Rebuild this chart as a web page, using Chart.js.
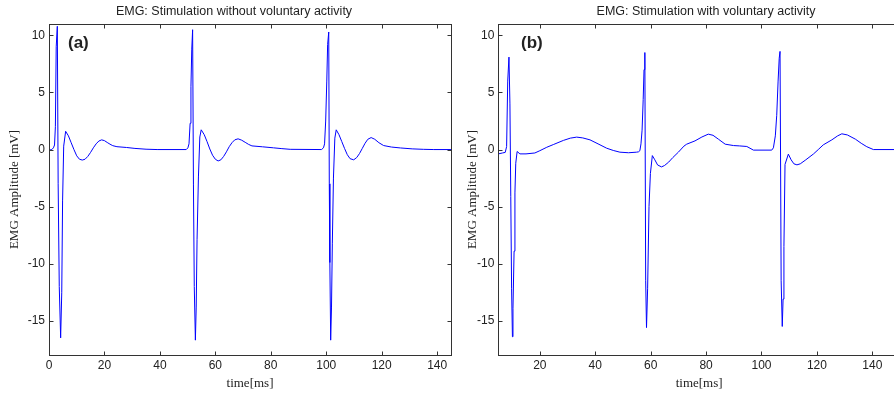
<!DOCTYPE html>
<html>
<head>
<meta charset="utf-8">
<script src="https://cdn.jsdelivr.net/npm/chart.js@4"></script>
<style>
  html, body { margin: 0; padding: 0; background: #fff; overflow: hidden; }
  body { width: 894px; height: 397px; position: relative; }
  .panel { position: absolute; top: 0; }
  #panelA { left: 0; }
  #panelB { left: 455px; }
</style>
</head>
<body>
<div class="panel" id="panelA"><canvas id="chartA" width="455" height="397"></canvas></div>
<div class="panel" id="panelB"><canvas id="chartB" width="448" height="397"></canvas></div>
<script>
// panel (a): stimulation without voluntary activity
const timeA = [
  0, 1.0, 1.6, 2.0, 2.3, 2.6, 3.0, 3.3, 3.7, 4.2, 4.6, 4.9, 5.3, 6.0,
  7, 8, 9, 10, 11, 12, 13, 14, 15, 16, 17, 18, 19, 20, 21, 22, 23,
  24.5, 28, 31, 35, 39,
  49.5, 50.1, 50.5, 50.9, 51.2, 51.5, 51.8, 52.1, 52.4, 52.8, 53.1, 53.4, 53.9, 54.4, 54.9,
  56, 57, 58, 59, 60, 61, 62, 63, 64, 65, 66, 67,
  68.2, 69.5, 71, 72, 73.2, 77, 81, 84, 87,
  98.3, 99.0, 99.4, 99.8, 100.2, 100.5, 100.9, 101.1, 101.3, 101.6, 101.9, 102.2, 102.6, 103.1, 103.6,
  104.6, 105.6, 106.6, 107.6, 108.6, 109.9, 111, 112, 113, 114, 115,
  116.2, 117.5, 119, 120.7, 123.5, 126.8, 131, 135, 138.8, 145
];
const emgA = [
  -0.05, 0, 0.15, 0.4, 2.0, 9.0, 10.8, -3.0, -12.0, -16.5, -12.5, -4.5, 0.3, 1.6,
  1.2, 0.6, 0.0, -0.55, -0.85, -0.92, -0.85, -0.6, -0.25, 0.15, 0.5, 0.75, 0.85, 0.78, 0.62, 0.47, 0.34,
  0.25, 0.18, 0.1, 0.03, 0.0,
  0.0, 0.15, 0.5, 2.3, 5.5, 8.8, 10.5, -3.1, -12.0, -16.7, -13.8, -7.9, -2.4, 1.1, 1.73,
  1.3, 0.7, 0.05, -0.5, -0.85, -1.0, -0.9, -0.6, -0.2, 0.25, 0.6, 0.85,
  0.94, 0.82, 0.6, 0.45, 0.32, 0.24, 0.15, 0.08, 0.02,
  0.0, 0.15, 0.5, 2.5, 6.0, 9.2, 10.3, -3.0, -9.9, -16.7, -13.8, -8.2, -2.5, 1.0, 1.73,
  1.3, 0.7, 0.1, -0.45, -0.8, -0.9, -0.7, -0.35, 0.1, 0.55, 0.9,
  1.05, 0.9, 0.6, 0.35, 0.22, 0.14, 0.06, 0.02, 0.0, 0.0
];

// panel (b): stimulation with voluntary activity
const timeB = [
  5.0, 6.5, 7.5, 8.0, 8.4, 8.85, 9.2, 9.5, 9.8, 10.1, 10.3, 10.7, 11.0, 11.3, 11.8, 12.8,
  15, 18.2, 20, 22.5, 25, 28.5, 31, 33.3, 35.5, 38.1, 41, 44.1, 46.5, 48.9, 52, 54.9,
  55.6, 56.1, 56.5, 56.9, 57.3, 57.6, 57.9, 58.2, 58.5, 58.9, 59.4, 59.9, 60.6, 61.5, 62.5, 63.9,
  65, 66.5, 68, 70, 72, 73, 76, 78.5, 80.8, 82.5, 84.5, 86.9, 89.9, 92, 94.7, 97.1, 103.7,
  104.3, 105.0, 105.5, 106.0, 106.4, 106.7, 107.1, 107.5, 107.8, 108.1, 108.5, 109.7, 110.7, 111.7, 112.8,
  114, 116, 118.8, 120.5, 122.3, 125.4, 127.5, 129, 131, 133.9, 136, 138, 140.4, 150
];
const emgB = [
  -0.38, -0.3, -0.25, 0.26, 6.0, 8.1, 4.0, -4.1, -12.2, -16.4, -13.9, -8.9, -3.8, -1.2, -0.17, -0.38,
  -0.38, -0.3, -0.1, 0.2, 0.45, 0.8, 1.0, 1.09, 1.02, 0.85, 0.5, 0.12, -0.08, -0.23, -0.28, -0.23,
  -0.2, -0.1, 0.5, 1.7, 4.4, 7.0, 8.5, -11.5, -15.6, -12.2, -5.0, -2.1, -0.53, -0.9, -1.35, -1.52,
  -1.4, -1.1, -0.7, -0.23, 0.3, 0.47, 0.76, 1.1, 1.35, 1.25, 0.9, 0.47, 0.35, 0.32, 0.27, -0.05, -0.05,
  0.15, 1.2, 3.0, 6.0, 8.0, 8.6, -11.5, -15.5, -13.1, -8.5, -1.3, -0.4, -0.9, -1.25, -1.34,
  -1.25, -0.9, -0.38, 0.0, 0.41, 0.85, 1.2, 1.38, 1.28, 0.91, 0.55, 0.25, 0.0, 0.0
];

const xTicksA = [0, 20, 40, 60, 80, 100, 120, 140];
const xTicksB = [20, 40, 60, 80, 100, 120, 140];
const yTicks = [-15, -10, -5, 0, 5, 10];

const textColor = "#222";
const axisColor = "#333";

// box round the plot with inward ticks on all four sides, plus title and panel label
const framePlugin = {
  id: "frame",
  afterDraw(chart, args, opts) {
    const { ctx, chartArea: a, scales } = chart;
    const l = Math.round(a.left) + 0.5;
    const r = Math.round(a.right) + 0.5;
    const t = Math.round(a.top) + 0.5;
    const b = Math.round(a.bottom) + 0.5;
    ctx.save();
    ctx.strokeStyle = axisColor;
    ctx.lineWidth = 1;
    ctx.strokeRect(l, t, r - l, b - t);
    ctx.beginPath();
    scales.x.ticks.forEach((tk) => {
      const x = Math.round(scales.x.getPixelForValue(tk.value)) + 0.5;
      ctx.moveTo(x, b);
      ctx.lineTo(x, b - 4);
      ctx.moveTo(x, t);
      ctx.lineTo(x, t + 4);
    });
    scales.y.ticks.forEach((tk) => {
      const y = Math.round(scales.y.getPixelForValue(tk.value)) + 0.5;
      ctx.moveTo(l, y);
      ctx.lineTo(l + 4, y);
      ctx.moveTo(r, y);
      ctx.lineTo(r - 4, y);
    });
    ctx.stroke();

    ctx.fillStyle = textColor;
    ctx.textBaseline = "middle";
    ctx.textAlign = "center";
    ctx.font = "12.5px 'Liberation Sans', Arial, sans-serif";
    ctx.fillText(opts.title, opts.titleX, 12);
    ctx.textAlign = "left";
    ctx.font = "bold 17px 'Liberation Sans', Arial, sans-serif";
    ctx.fillText(opts.label, opts.labelX, 43);
    ctx.restore();
  },
};

function makeChart(id, times, values, cfg) {
  const points = times.map((t, i) => ({ x: t, y: values[i] }));
  return new Chart(document.getElementById(id), {
    type: "line",
    data: {
      datasets: [
        {
          data: points,
          borderColor: "#0000ff",
          borderWidth: 1,
          pointRadius: 0,
          fill: false,
          tension: 0,
        },
      ],
    },
    options: {
      responsive: false,
      animation: false,
      events: [],
      layout: { padding: { top: 24, right: cfg.padRight, bottom: 0, left: 0 } },
      plugins: {
        legend: { display: false },
        tooltip: { enabled: false },
        frame: { title: cfg.title, titleX: cfg.titleX, label: cfg.label, labelX: cfg.labelX },
      },
      scales: {
        x: {
          type: "linear",
          min: cfg.xMin,
          max: cfg.xMax,
          afterBuildTicks: (s) => {
            s.ticks = cfg.xTicks.map((v) => ({ value: v }));
          },
          afterFit: (s) => {
            s.height = 42;
          },
          grid: { display: false, drawTicks: false },
          border: { display: false },
          ticks: {
            padding: 3,
            maxRotation: 0,
            color: textColor,
            font: { family: "'Liberation Sans', Arial, sans-serif", size: 12 },
          },
          title: {
            display: true,
            text: "time[ms]",
            color: textColor,
            padding: { top: 0, bottom: 6 },
            font: { family: "'Liberation Serif', 'Times New Roman', serif", size: 13 },
          },
        },
        y: {
          min: -18,
          max: 11,
          afterBuildTicks: (s) => {
            s.ticks = yTicks.map((v) => ({ value: v }));
          },
          afterFit: (s) => {
            s.width = cfg.yWidth;
          },
          grid: { display: false, drawTicks: false },
          border: { display: false },
          ticks: {
            padding: 4,
            color: textColor,
            font: { family: "'Liberation Sans', Arial, sans-serif", size: 12 },
          },
          title: {
            display: true,
            text: "EMG Amplitude [mV]",
            color: textColor,
            padding: { top: cfg.yTitlePad, bottom: 0 },
            font: { family: "'Liberation Serif', 'Times New Roman', serif", size: 13 },
          },
        },
      },
    },
    plugins: [framePlugin],
  });
}

makeChart("chartA", timeA, emgA, {
  xMin: 0,
  xMax: 145,
  xTicks: xTicksA,
  yWidth: 49,
  yTitlePad: 7,
  padRight: 4,
  title: "EMG: Stimulation without voluntary activity",
  titleX: 234,
  label: "(a)",
  labelX: 68,
});

makeChart("chartB", timeB, emgB, {
  xMin: 5,
  xMax: 150,
  xTicks: xTicksB,
  yWidth: 43.3,
  yTitlePad: 10,
  padRight: 3,
  title: "EMG: Stimulation with voluntary activity",
  titleX: 251,
  label: "(b)",
  labelX: 66,
});
</script>
</body>
</html>
